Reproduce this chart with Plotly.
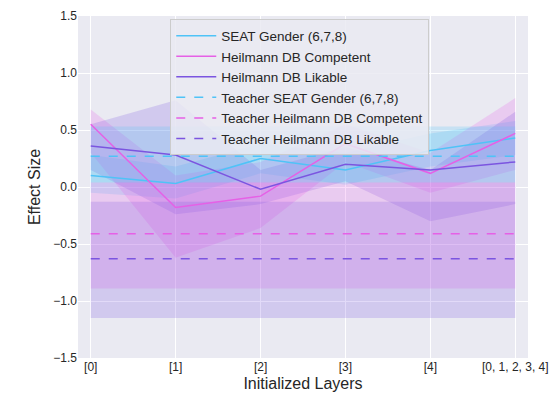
import plotly.graph_objects as go

cats = ["[0]", "[1]", "[2]", "[3]", "[4]", "[0, 1, 2, 3, 4]"]
seat = [0.10, 0.03, 0.25, 0.15, 0.32, 0.43]
seat_lo = [-0.05, -0.10, 0.12, 0.02, 0.18, 0.28]
seat_hi = [0.28, 0.18, 0.38, 0.30, 0.47, 0.58]
comp = [0.55, -0.18, -0.08, 0.38, 0.12, 0.47]
comp_lo = [0.30, -0.62, -0.36, 0.22, -0.05, 0.15]
comp_hi = [0.68, 0.10, 0.22, 0.55, 0.30, 0.78]
lik = [0.36, 0.28, -0.02, 0.20, 0.15, 0.22]
lik_lo = [0.15, -0.24, -0.15, 0.05, -0.30, -0.15]
lik_hi = [0.55, 0.76, 0.15, 0.35, 0.15, 0.66]
t_seat, t_seat_lo, t_seat_hi = 0.27, 0.04, 0.53
t_comp, t_comp_lo, t_comp_hi = -0.41, -0.89, 0.04
t_lik, t_lik_lo, t_lik_hi = -0.63, -1.15, -0.13

c_seat = "#4fc3f7"
c_comp = "#e660e6"
c_lik = "#7b55e0"

def rgba(h, a):
    h = h.lstrip("#")
    return f"rgba({int(h[0:2],16)},{int(h[2:4],16)},{int(h[4:6],16)},{a})"

fig = go.Figure()
n = len(cats)

def band(lo, hi, c):
    fig.add_trace(go.Scatter(x=cats, y=hi, mode="lines", line=dict(width=0), showlegend=False, hoverinfo="skip"))
    fig.add_trace(go.Scatter(x=cats, y=lo, mode="lines", line=dict(width=0), fill="tonexty",
                             fillcolor=rgba(c, 0.22), showlegend=False, hoverinfo="skip"))

band(seat_lo, seat_hi, c_seat)
band(comp_lo, comp_hi, c_comp)
band(lik_lo, lik_hi, c_lik)
band([t_seat_lo]*n, [t_seat_hi]*n, c_seat)
band([t_comp_lo]*n, [t_comp_hi]*n, c_comp)
band([t_lik_lo]*n, [t_lik_hi]*n, c_lik)

fig.add_trace(go.Scatter(x=cats, y=seat, mode="lines", line=dict(color=c_seat, width=1.5), name="SEAT Gender (6,7,8)"))
fig.add_trace(go.Scatter(x=cats, y=comp, mode="lines", line=dict(color=c_comp, width=1.5), name="Heilmann DB Competent"))
fig.add_trace(go.Scatter(x=cats, y=lik, mode="lines", line=dict(color=c_lik, width=1.5), name="Heilmann DB Likable"))
fig.add_trace(go.Scatter(x=cats, y=[t_seat]*n, mode="lines", line=dict(color=c_seat, width=1.5, dash="dash"), name="Teacher SEAT Gender (6,7,8)"))
fig.add_trace(go.Scatter(x=cats, y=[t_comp]*n, mode="lines", line=dict(color=c_comp, width=1.5, dash="dash"), name="Teacher Heilmann DB Competent"))
fig.add_trace(go.Scatter(x=cats, y=[t_lik]*n, mode="lines", line=dict(color=c_lik, width=1.5, dash="dash"), name="Teacher Heilmann DB Likable"))

fig.update_layout(
    width=543, height=400,
    margin=dict(l=70, r=23, t=8, b=50),
    paper_bgcolor="white", plot_bgcolor="#eaeaf2",
    font=dict(family="Liberation Sans, Arial", size=13, color="#262626"),
    legend=dict(x=0.205, y=0.99, xanchor="left", yanchor="top", bgcolor="rgba(234,234,242,0.85)",
                bordercolor="#cccccc", borderwidth=1, font=dict(size=13.5), tracegroupgap=0,
                traceorder="normal", itemwidth=40),
    xaxis=dict(title=dict(text="Initialized Layers", standoff=4), showgrid=True, gridcolor="white",
               gridwidth=1, zeroline=False, range=[-0.15, 5.15], ticks="", automargin=False,
               tickfont=dict(size=12)),
    yaxis=dict(title=dict(text="Effect Size", standoff=8), range=[-1.5, 1.5], dtick=0.5, tickformat=".1f",
               showgrid=True, gridcolor="white", zeroline=False, ticks="", automargin=False,
               tickfont=dict(size=12)),
)
fig.write_html("out.html")
